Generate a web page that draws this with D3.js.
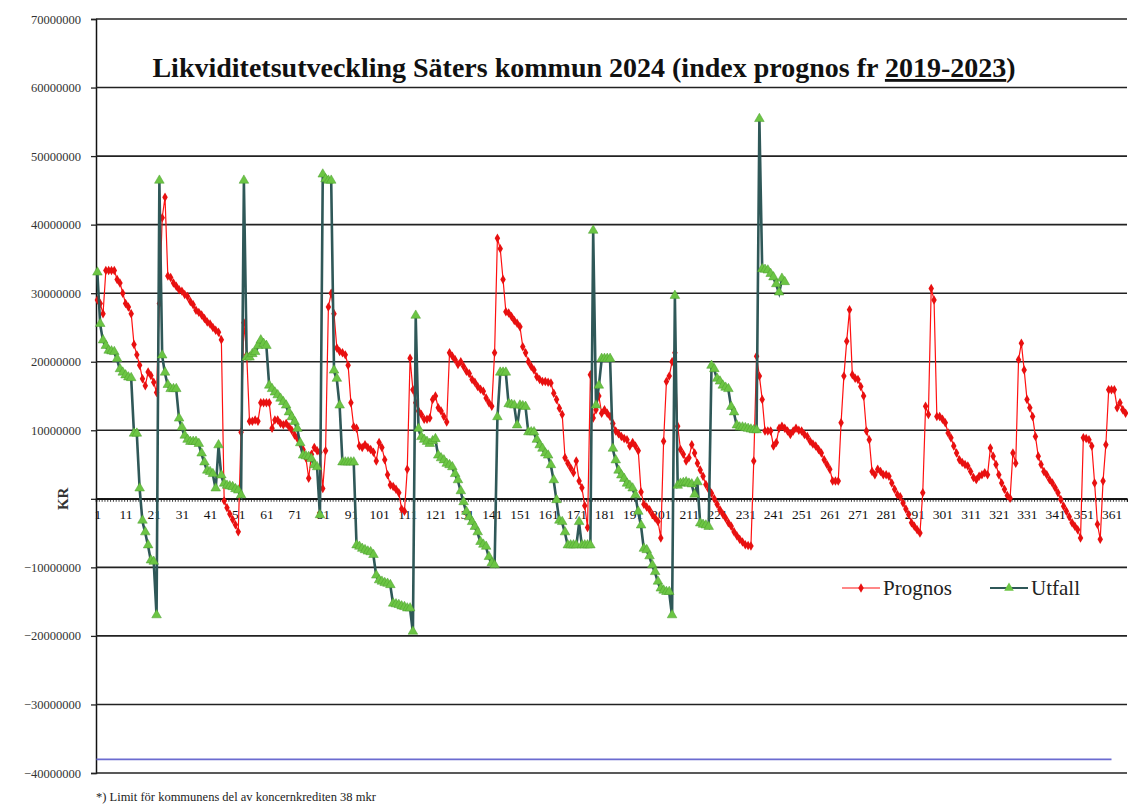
<!DOCTYPE html>
<html>
<head>
<meta charset="utf-8">
<script src="https://cdn.jsdelivr.net/npm/d3@7.9.0/dist/d3.min.js"></script>
<style>
  body { margin: 0; background: #fff; }
  svg { display: block; font-family: "Liberation Serif", "DejaVu Serif", serif; }
</style>
</head>
<body>
<svg id="chart" width="1128" height="805"></svg>
<script>
// Values in millions of kronor, one per day (index 0 = day 1)
const prognos = [
  29, 28.5, 27, 33.3, 33.3, 33.3, 33.3, 32, 31.5, 30,
  28.5, 28, 27, 22.5, 21, 19.5, 17.5, 16.5, 18.5, 18,
  17, 15.5, 28.5, 41, 44, 32.5, 32.3, 31.5, 31, 30.5,
  30.3, 29.8, 29.5, 28.8, 28.3, 27.5, 27.2, 26.8, 26.3, 25.8,
  25.5, 25, 24.6, 24.3, 23.2, -0.3, -1.3, -2.2, -3, -3.8,
  -4.8, 9.7, 25.7, 21, 11.3, 11.3, 11.5, 11.3, 14, 14,
  14, 14, 10.3, 11.5, 11.5, 11, 10.8, 11, 10.5, 10,
  9.3, 8.8, 8, 7.2, 6, 3, 6.5, 7.5, 7, 6.8,
  1.5, 7, 28, 30, 27, 22, 21.5, 21.3, 21, 19.5,
  14, 10.5, 10.3, 7.7, 7.5, 7.9, 7.5, 7.2, 6.8, 5.5,
  8.2, 7.5, 5.7, 3.5, 2, 1.8, 1.4, 0.9, -1.5, -1.8,
  4.3, 20.5, 15.9, 14, 12.8, 12.3, 11.6, 11.6, 11.8, 14.5,
  15, 13.3, 12.8, 12, 11.2, 21.3, 20.8, 20.3, 19.6, 20,
  19.3, 18.6, 18.3, 17.4, 17, 16.4, 16, 15.7, 14.7, 14,
  13.5, 21.3, 38, 36.5, 32, 27.3, 27.1, 26.6, 26, 25.6,
  25.1, 22.2, 21.3, 20, 19.3, 18.8, 17.8, 17.4, 17.1, 17.1,
  17, 16.9, 15.4, 14.5, 13.2, 12.3, 6, 5.2, 4.5, 3.8,
  5.5, 2.6, 1.6, -1, -4.2, 18.1, 11.8, 13, 15, 12.5,
  13, 12.5, 12, 11, 9.9, 9.5, 9.1, 8.8, 8.6, 7.7,
  8.2, 7.7, 7, 1, -0.8, -1.2, -1.6, -2.3, -2.8, -3.3,
  -5.7, 8.4, 17.1, 17.9, 20, 21.3, 10.6, 7.2, 6.5, 5.5,
  6, 7.9, 6.7, 5.2, 4.2, 3.3, 2.1, 1.4, 0.8, 0,
  -0.8, -1.6, -2.2, -2.8, -3.5, -4, -4.8, -5.4, -5.9, -6.3,
  -6.7, -6.8, -6.9, 5.5, 20.8, 17.9, 14.5, 9.9, 9.9, 9.9,
  7.7, 8.2, 10.3, 10.6, 10.3, 9.9, 9.4, 9.9, 10.3, 10,
  9.9, 9.4, 9.1, 8.4, 8, 7.7, 7.2, 6.7, 5.7, 5,
  4.3, 2.6, 2.6, 2.6, 11.1, 17.9, 23, 27.6, 18.1, 17.6,
  17.4, 16.4, 15, 9.9, 8.6, 4, 3.5, 4.3, 4, 3.5,
  3.5, 3.3, 2.3, 1.4, 0.6, 0.3, -0.6, -1.5, -2.3, -3.5,
  -4, -4.5, -5, 0.9, 13.5, 12.3, 30.7, 29, 12, 12,
  11.6, 11.1, 9.6, 8.9, 7.7, 6.7, 5.7, 5.3, 5, 4.8,
  4, 3.1, 2.8, 3.3, 3.5, 3.8, 3.5, 7.4, 6.2, 5,
  3.5, 2.3, 1.4, 0.5, 0.1, 6.7, 5.2, 20.3, 22.7, 18.8,
  14.5, 13.3, 12, 9.1, 6.2, 5, 4, 3.5, 2.8, 2.3,
  1.6, 0.9, -0.1, -1.1, -1.8, -2.6, -3.5, -4, -4.5, -5.7,
  8.9, 8.8, 8.6, 7.7, 2.3, -3.7, -5.9, 2.6, 7.9, 15.9,
  15.9, 15.9, 13.3, 14, 13, 12.5
];

const utfall = [
  32.9, 25.4, 23, 22.2, 21.5, 21.4, 21.3, 20.3, 18.8, 18.3,
  17.9, 17.6, 17.5, 9.4, 9.4, 1.4, -3.3, -5, -6.9, -9.1,
  -9.3, -17.1, 46.3, 20.8, 18.3, 16.5, 15.9, 15.9, 15.9, 11.6,
  10.3, 9.1, 8.5, 8.2, 8.2, 8.2, 7.9, 6.5, 5.2, 4,
  3.8, 3.5, 1.4, 7.7, 3.3, 2.1, 1.8, 1.7, 1.6, 1.3,
  1.1, 0.4, 46.3, 20.5, 20.5, 21, 21.3, 22.2, 23, 22.5,
  22.2, 16.4, 15.9, 15.4, 15, 14.5, 14, 13.5, 12.5, 11.8,
  11.1, 10.1, 8, 6.2, 6.1, 6, 5.7, 4.8, 4.5, -2.5,
  47.2, 46.5, 46.3, 46.3, 18.6, 17.4, 13.5, 5.2, 5.2, 5.2,
  5.2, 5.2, -6.9, -7.1, -7.4, -7.6, -7.8, -7.9, -8.3, -11.3,
  -12, -12.2, -12.4, -12.5, -12.7, -15.4, -15.5, -15.6, -15.8, -15.9,
  -16.1, -16.1, -19.5, 26.6, 10.1, 8.9, 8.5, 8.2, 7.9, 8.3,
  8.6, 6.2, 5.8, 5.5, 5, 4.8, 4.5, 3.5, 2.6, 1,
  -0.6, -2, -2.8, -3.5, -4.2, -5, -6.4, -6.8, -7.1, -8.6,
  -9.5, -9.8, 11.8, 18.3, 18.3, 18.3, 13.7, 13.6, 13.5, 10.6,
  13.5, 13.4, 13.3, 9.6, 9.6, 9.6, 8.5, 7.7, 7.2, 6.5,
  6.2, 4.8, 2.6, -0.3, -3.3, -3.5, -5, -6.9, -6.9, -6.9,
  -6.9, -3.5, -6.9, -6.9, -6.9, -6.9, 39, 13.5, 16.4, 20.3,
  20.3, 20.3, 20.3, 7.2, 5.5, 4, 3.3, 2.8, 2.1, 1.8,
  1.4, 0.4, -2, -4, -7.4, -7.6, -8.5, -9.8, -10.8, -12.2,
  -13.2, -13.5, -13.7, -13.7, -17.1, 29.5, 1.8, 2.1, 2.2, 2.3,
  2.1, 2, 0.5, 2.3, -3.7, -3.9, -4, -4.2, 19.3, 18.8,
  17.4, 17, 16.4, 16.1, 15.9, 13.3, 12.5, 10.6, 10.3, 10.3,
  10.2, 10.1, 10, 9.9, 9.9, 55.3, 33.4, 33.3, 33.2, 32.7,
  32.2, 31.2, 30, 32, 31.5
];

// Credit limit line (mkr) and the days it spans
const limitValue = -38;
const limitDays = [1, 361];

const dayCount = 366;
const yTicks = [-40, -30, -20, -10, 0, 10, 20, 30, 40, 50, 60, 70];
const xLabelDays = d3.range(1, 362, 10);

const svg = d3.select("#chart");
const plot = { left: 96, right: 1127, top: 19, bottom: 773 };

const x = d3.scaleLinear().domain([0.5, dayCount + 0.5]).range([plot.left, plot.right]);
const y = d3.scaleLinear().domain([-40, 70]).range([plot.bottom, plot.top]);

svg.append("rect").attr("width", 1128).attr("height", 805).attr("fill", "#fff");

// y labels and small outside ticks
const yAxis = svg.append("g")
  .attr("transform", `translate(${plot.left},0)`)
  .call(d3.axisLeft(y)
    .tickValues(yTicks)
    .tickSize(5)
    .tickPadding(10)
    .tickFormat(d => d === 0 ? "" : d3.format("d")(d * 1e6)));
yAxis.select(".domain").attr("stroke", "#111").attr("stroke-width", 1.5);
yAxis.selectAll(".tick line").attr("stroke", "#222").attr("stroke-width", 1.3);
yAxis.selectAll(".tick text")
  .attr("font-size", 12.5)
  .attr("fill", "#333")
  .style("font-family", "Liberation Serif, serif");

// gridlines
svg.append("g")
  .selectAll("line")
  .data(yTicks)
  .join("line")
  .attr("x1", plot.left)
  .attr("x2", plot.right)
  .attr("y1", d => y(d))
  .attr("y2", d => y(d))
  .attr("stroke", "#222")
  .attr("stroke-width", 1.6);

// x axis at zero with a tick per day
const xAxis = svg.append("g")
  .attr("transform", `translate(0,${y(0)})`)
  .call(d3.axisBottom(x)
    .tickValues(d3.range(0.5, dayCount + 1, 1))
    .tickSize(3)
    .tickFormat(""));
xAxis.select(".domain").attr("stroke", "#111").attr("stroke-width", 1.6);
xAxis.selectAll(".tick line").attr("stroke", "#111").attr("stroke-width", 0.8);

const xLab = svg.append("g")
  .attr("transform", `translate(0,${y(0)})`)
  .call(d3.axisBottom(x)
    .tickValues(xLabelDays)
    .tickSize(0)
    .tickPadding(11)
    .tickFormat(d3.format("d")));
xLab.select(".domain").remove();
xLab.selectAll(".tick text")
  .attr("font-size", 13.5)
  .attr("fill", "#111")
  .style("font-family", "Liberation Serif, serif");

// KR label
svg.append("text")
  .attr("transform", `translate(68,${y(0)}) rotate(-90)`)
  .attr("text-anchor", "middle")
  .attr("font-size", 15)
  .attr("font-weight", "bold")
  .attr("fill", "#333")
  .text("KR");

// limit line
svg.append("line")
  .attr("x1", x(limitDays[0]) - 1)
  .attr("x2", x(limitDays[1]))
  .attr("y1", y(limitValue))
  .attr("y2", y(limitValue))
  .attr("stroke", "#6B6BD0")
  .attr("stroke-width", 1.8);

const lineGen = d3.line()
  .x((d, i) => x(i + 1))
  .y(d => y(d));

// Prognos
svg.append("path")
  .datum(prognos)
  .attr("d", lineGen)
  .attr("fill", "none")
  .attr("stroke", "#FF1010")
  .attr("stroke-width", 1.2);

svg.append("g")
  .selectAll("path")
  .data(prognos)
  .join("path")
  .attr("transform", (d, i) => `translate(${x(i + 1)},${y(d)})`)
  .attr("d", d3.symbol(d3.symbolDiamond).size(26))
  .attr("fill", "#E81010");

// Utfall
svg.append("path")
  .datum(utfall)
  .attr("d", lineGen)
  .attr("fill", "none")
  .attr("stroke", "#2F5858")
  .attr("stroke-width", 2.6);

svg.append("g")
  .selectAll("path")
  .data(utfall)
  .join("path")
  .attr("transform", (d, i) => `translate(${x(i + 1)},${y(d) - 1})`)
  .attr("d", d3.symbol(d3.symbolTriangle).size(40))
  .attr("fill", "#6CC544")
  .attr("stroke", "#4A9E2E")
  .attr("stroke-width", 0.5);

// Title
const title = svg.append("text")
  .attr("x", 584)
  .attr("y", 77)
  .attr("text-anchor", "middle")
  .attr("font-size", 28)
  .attr("font-weight", "bold")
  .attr("fill", "#111");
title.append("tspan").text("Likviditetsutveckling Säters kommun 2024 (index prognos fr ");
title.append("tspan").attr("text-decoration", "underline").text("2019-2023");
title.append("tspan").text(")");

// Legend
const legend = svg.append("g").attr("transform", "translate(0,588)");
const legendItems = [
  { name: "Prognos", x: 842, color: "#FF1010", width: 1.2, symbol: d3.symbolDiamond, fill: "#E81010", size: 26 },
  { name: "Utfall", x: 990, color: "#2F5858", width: 2, symbol: d3.symbolTriangle, fill: "#6CC544", size: 40 }
];
legendItems.forEach(item => {
  legend.append("line")
    .attr("x1", item.x).attr("x2", item.x + 38)
    .attr("stroke", item.color).attr("stroke-width", item.width);
  legend.append("path")
    .attr("transform", `translate(${item.x + 19},0)`)
    .attr("d", d3.symbol(item.symbol).size(item.size))
    .attr("fill", item.fill);
  legend.append("text")
    .attr("x", item.x + 41)
    .attr("y", 7)
    .attr("font-size", 21)
    .attr("fill", "#222")
    .text(item.name);
});

// Footnote
svg.append("text")
  .attr("x", 96)
  .attr("y", 801)
  .attr("font-size", 12.5)
  .attr("fill", "#222")
  .text("*) Limit för kommunens del av koncernkrediten 38 mkr");
</script>
</body>
</html>
